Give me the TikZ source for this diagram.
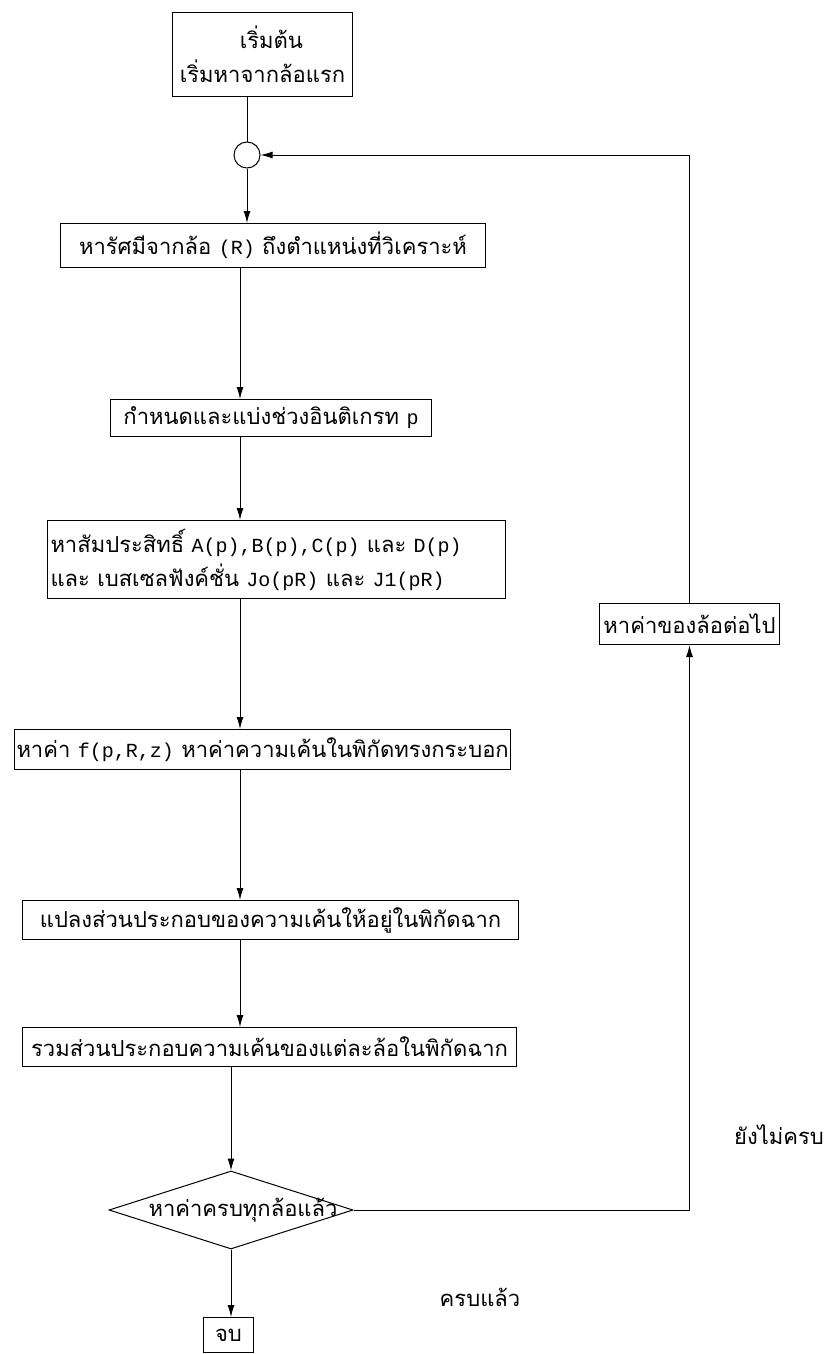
\documentclass[tikz,border=0pt]{standalone}
\usepackage{fontspec}
\newfontfamily\thai[Script=Thai]{Loma}
\newfontfamily\mono{Liberation Mono}
\usetikzlibrary{shapes.geometric,arrows.meta}
\newcommand{\en}[1]{{\mono\fontsize{20}{34}\selectfont #1}}

\tikzset{
	box/.style={draw, line width=1pt, inner sep=2pt, anchor=north west,
		font=\thai\fontsize{22}{34}\selectfont},
	dec/.style={draw, diamond, line width=1pt, inner sep=0pt,
		font=\thai\fontsize{22}{34}\selectfont},
	lab/.style={font=\thai\fontsize{22}{26}\selectfont},
	flow/.style={line width=1pt, -{Latex[length=12pt,width=7pt]}},
	link/.style={line width=1pt},
}

\begin{document}
\begin{tikzpicture}[x=1pt, y=-1pt]
	\useasboundingbox (0,0) rectangle (829,1354);
	\coordinate (ax) at (240,0);

	\node[box, minimum width=180pt, minimum height=84pt, align=left] (start) at (172,12) {\hspace*{60pt}เริ่มต้น\\เริ่มหาจากล้อแรก};
	\node[draw, circle, line width=1pt, minimum size=26pt, inner sep=0pt] (join) at (247,155) {};
	\node[box, minimum width=425pt, minimum height=44pt] (rad) at (60,223) {หารัศมีจากล้อ \en{(R)} ถึงตำแหน่งที่วิเคราะห์};
	\node[box, minimum width=321pt, minimum height=37pt] (sub) at (110,399) {กำหนดและแบ่งช่วงอินติเกรท \en{p}};
	\node[box, text width=452pt, minimum height=78pt, inner sep=3pt, align=left] (coef) at (47,520) {หาสัมประสิทธิ์ \en{A(p),B(p),C(p)} และ \en{D(p)}\\และ เบสเซลฟังค์ชั่น \en{Jo(pR)} และ \en{J1(pR)}};
	\node[box, minimum width=476pt, minimum height=40pt] (stress) at (14,729) {หาค่า \en{f(p,R,z)} หาค่าความเค้นในพิกัดทรงกระบอก};
	\node[box, minimum width=496pt, minimum height=39pt] (trans) at (22,900) {แปลงส่วนประกอบของความเค้นให้อยู่ในพิกัดฉาก};
	\node[box, minimum width=494pt, minimum height=39pt] (sum) at (22,1027) {รวมส่วนประกอบความเค้นของแต่ละล้อในพิกัดฉาก};
	\node[dec, minimum width=244pt, minimum height=78pt] (chk) at (231,1210) {\makebox[0pt]{\hspace{24pt}หาค่าครบทุกล้อแล้ว}};
	\node[box, minimum width=50pt, minimum height=35pt] (stop) at (203,1317) {จบ};
	\node[box, minimum width=180pt, minimum height=41pt] (next) at (599,603) {หาค่าของล้อต่อไป};

	\node[lab] (no) at (779,1135) {ยังไม่ครบ};
	\node[lab] (yes) at (480,1297) {ครบแล้ว};

	\draw[link] (start.south -| join) -- (join.north);
	\draw[flow] (join.south) -- (join.south |- rad.north);
	\draw[flow] (rad.south -| ax) -- (ax |- sub.north);
	\draw[flow] (sub.south -| ax) -- (ax |- coef.north);
	\draw[flow] (coef.south -| ax) -- (ax |- stress.north);
	\draw[flow] (stress.south -| ax) -- (ax |- trans.north);
	\draw[flow] (trans.south -| ax) -- (ax |- sum.north);
	\draw[flow] (sum.south -| chk) -- (chk.north);
	\draw[flow] (chk.south) -- (chk.south |- stop.north);
	\draw[flow] (chk.east) -| (next.south);
	\draw[flow] (next.north) |- (join.east);
\end{tikzpicture}
\end{document}
